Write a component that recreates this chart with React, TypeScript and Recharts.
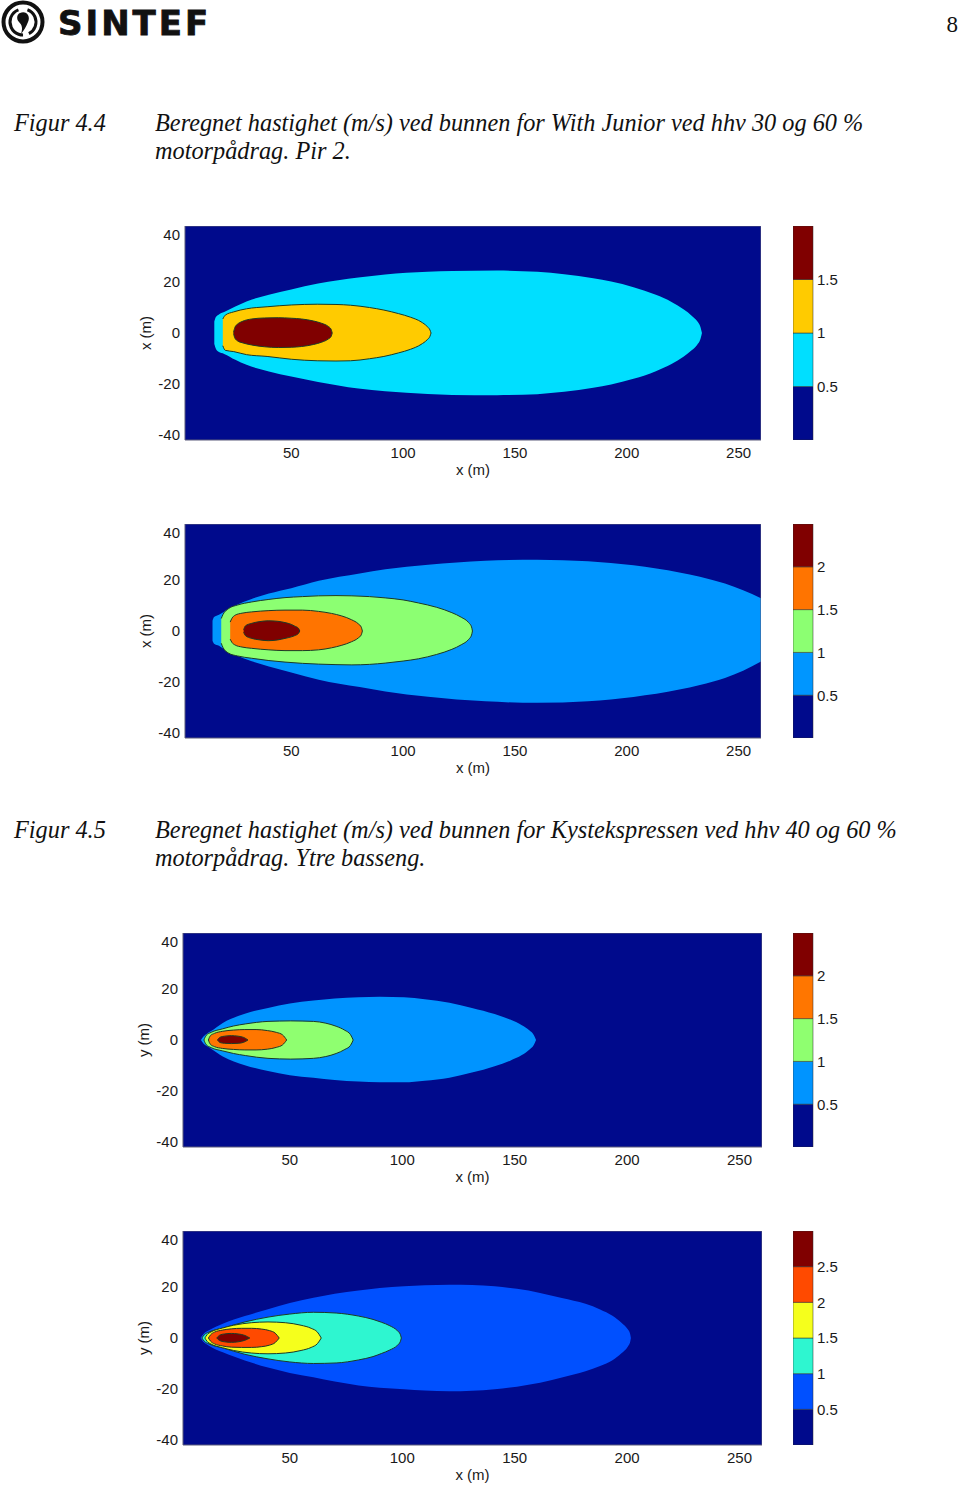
import React from 'react';
import {
  ComposedChart,
  Area,
  XAxis,
  YAxis,
  CartesianGrid,
  ReferenceArea,
  BarChart,
  Bar,
} from 'recharts';

const xTicks = [50, 100, 150, 200, 250];
const yTicks = [-40, -20, 0, 20, 40];
const xDomain: [number, number] = [2.5, 260];
const yDomain: [number, number] = [-42, 42];

const navy = '#000a8c';
const darkRed = '#800000';
const outline = '#1d3a26';

// Figur 4.4, top panel (30 % motorpådrag)
const aLevels = [0, 0.5, 1, 1.5, 2];
const aColors = [navy, '#00dfff', '#ffcb00', darkRed];
const aCyanX = [15.6, 16.3, 17.5, 20, 25, 30, 40, 50, 62, 80, 92, 111, 122, 142, 160, 172, 185, 193, 203, 213, 220, 225.5, 229, 231.5, 233, 233.6];
const aCyanTop = [4.5, 6.3, 7.2, 8.2, 10.4, 12.4, 15, 17.1, 19.4, 21.8, 23.0, 24.0, 24.3, 24.5, 24.0, 23.1, 21.5, 20.2, 18.0, 15.0, 12.2, 9.2, 6.8, 4.6, 2.2, 0];
const aCyanBot = [-4.3, -6.2, -7.4, -8.2, -10.5, -12.5, -15.1, -17.1, -19.2, -21.8, -22.9, -23.9, -24.3, -24.4, -24.0, -23.1, -21.5, -20.2, -18.0, -15.0, -12.2, -9.2, -6.8, -4.6, -2.2, 0];
const aYellowX = [19.4, 20.5, 24.3, 30, 39.2, 50, 61.6, 70, 76.5, 85, 91.4, 98, 103.3, 108, 110.7, 112, 112.5];
const aYellowTop = [5.5, 7.0, 8.3, 9.5, 10.3, 11.0, 11.3, 11.2, 10.9, 10.0, 9.0, 7.6, 6.2, 4.4, 2.6, 1.2, 0];
const aYellowBot = [-5.0, -6.8, -7.3, -8.5, -9.2, -10.3, -10.9, -11.0, -10.9, -10.1, -9.2, -7.8, -6.4, -4.5, -2.7, -1.3, 0];
const aRedX = [24.2, 24.8, 26, 28, 32.3, 38, 44.2, 50, 54.6, 60, 63.6, 66.5, 67.8, 68.3];
const aRedTop = [0.2, 2.2, 3.5, 4.5, 5.5, 5.9, 6.0, 5.8, 5.5, 4.7, 3.8, 2.6, 1.5, 0];
const aRedBot = [-0.2, -2.0, -3.1, -3.8, -4.7, -5.4, -5.7, -5.6, -5.3, -4.5, -3.6, -2.4, -1.4, 0];

// Figur 4.4, bottom panel (60 % motorpådrag)
const bLevels = [0, 0.5, 1, 1.5, 2, 2.5];
const bColors = [navy, '#0096ff', '#8cff72', '#ff7400', darkRed];
const bBlueX = [14.8, 15.5, 17.7, 20, 25.2, 32, 40, 50, 62.3, 80.6, 92.1, 111.2, 136.8, 160, 182.7, 203, 223.5, 232.7, 243.9, 252, 260];
const bBlueTop = [4.0, 5.5, 6.4, 7.6, 10.1, 12.5, 14.7, 16.8, 19.7, 22.6, 24.2, 26.0, 27.6, 28.0, 27.4, 25.8, 23.0, 21.3, 18.6, 16.0, 12.9];
const bBlueBot = [-3.8, -5.0, -5.8, -7.2, -9.4, -11.8, -13.9, -16.3, -19.1, -22.0, -23.7, -25.8, -27.6, -28.2, -27.6, -25.9, -23.0, -21.2, -18.4, -15.6, -12.0];
const bGreenX = [18.7, 19.5, 22, 26, 32.3, 40, 47.2, 55, 62.2, 70, 77.1, 85, 92, 100, 106.9, 115, 121.8, 126, 129.3, 130.6, 131];
const bGreenTop = [4.9, 6.5, 8.8, 10.2, 11.4, 12.4, 13.1, 13.5, 13.8, 13.9, 13.8, 13.5, 13.0, 12.2, 11.0, 9.3, 7.2, 5.4, 3.3, 1.6, 0];
const bGreenBot = [-4.8, -6.5, -8.7, -9.8, -10.7, -11.6, -12.2, -12.7, -13.0, -13.2, -13.3, -13.1, -12.6, -11.8, -10.9, -9.2, -7.2, -5.4, -3.3, -1.6, 0];
const bOrangeX = [22.7, 23.5, 24.9, 28, 32.3, 40, 47.2, 55, 62.2, 68, 72.6, 77, 80, 81.3, 81.8];
const bOrangeTop = [3.5, 5.0, 6.2, 7.0, 7.5, 8.0, 8.2, 8.2, 7.7, 6.9, 5.9, 4.4, 2.8, 1.5, 0];
const bOrangeBot = [-3.2, -4.5, -5.5, -6.3, -6.8, -7.4, -7.7, -7.7, -7.4, -6.6, -5.6, -4.2, -2.7, -1.5, 0];
const bRedX = [28.7, 29.5, 32.3, 36, 39.7, 44, 47.2, 50, 51.6, 53.3, 53.8];
const bRedTop = [0.5, 2.0, 3.0, 3.7, 4.0, 3.8, 3.3, 2.6, 1.9, 1.0, 0];
const bRedBot = [-0.5, -1.8, -2.9, -3.5, -3.8, -3.5, -2.9, -2.3, -1.8, -0.9, 0];

// Figur 4.5, top panel (40 % motorpådrag)
const cLevels = [0, 0.5, 1, 1.5, 2, 2.5];
const cColors = [navy, '#0094ff', '#8fff70', '#ff7600', darkRed];
const cBlueX = [10.5, 11.5, 13, 15, 20.2, 30, 40.3, 50, 60.5, 70, 80.6, 90, 100.8, 110, 121, 131, 141.1, 148, 153.2, 156.5, 158.5, 159.5];
const cBlueTop = [0, 1.3, 2.4, 3.5, 6.7, 10.3, 12.6, 14.3, 15.5, 16.3, 16.8, 17.0, 16.8, 16.0, 14.6, 12.6, 10.2, 8.0, 5.8, 3.8, 2.0, 0];
const cBlueBot = [0, -1.3, -2.4, -3.4, -6.5, -9.9, -12.2, -13.8, -14.8, -15.7, -16.3, -16.6, -16.6, -16.0, -14.8, -12.8, -10.3, -8.1, -5.9, -3.8, -2.0, 0];
const cGreenX = [11.8, 12.8, 15, 20.2, 25, 30.2, 40.3, 50.4, 60.5, 66, 70.6, 74.5, 77, 78.2];
const cGreenTop = [0, 1.8, 3.0, 4.4, 5.5, 6.3, 7.3, 7.5, 7.3, 6.6, 5.4, 3.8, 2.1, 0];
const cGreenBot = [0, -1.8, -3.0, -4.3, -5.3, -6.1, -7.2, -7.5, -7.2, -6.5, -5.3, -3.7, -2.1, 0];
const cOrangeX = [13.8, 14.6, 16.5, 20, 25, 30, 35, 40, 44, 46.8, 48.6];
const cOrangeTop = [0, 1.6, 2.6, 3.4, 3.9, 4.1, 4.1, 3.7, 3.0, 2.0, 0];
const cOrangeBot = [0, -1.6, -2.6, -3.3, -3.7, -3.9, -3.9, -3.6, -2.9, -1.9, 0];
const cRedX = [17.8, 19, 21, 24, 27, 29.5, 31.4];
const cRedTop = [0, 1.1, 1.5, 1.7, 1.5, 1.0, 0];
const cRedBot = [0, -1.0, -1.3, -1.4, -1.3, -0.9, 0];

// Figur 4.5, bottom panel (60 % motorpådrag)
const dLevels = [0, 0.5, 1, 1.5, 2, 2.5, 3];
const dColors = [navy, '#0050ff', '#2ef6d0', '#f5ff1c', '#ff4a00', darkRed];
const dBlueX = [10.3, 11.5, 14, 20.2, 30, 40.3, 50, 60.5, 70, 80.6, 90, 100.8, 110, 121, 131, 141.1, 151, 161.3, 171, 181.5, 188, 193.5, 197.5, 200.3, 201.3, 201.7];
const dBlueTop = [0, 1.5, 3.0, 5.6, 8.6, 11.3, 13.7, 15.8, 17.4, 18.6, 19.6, 20.3, 20.7, 20.9, 20.8, 20.3, 19.3, 17.7, 15.7, 13.4, 11.2, 8.7, 6.0, 3.4, 1.8, 0];
const dBlueBot = [0, -1.5, -3.0, -5.6, -8.8, -11.6, -13.7, -15.4, -17.1, -18.6, -19.5, -20.1, -20.6, -20.9, -20.7, -20.1, -19.1, -17.6, -15.5, -13.1, -11.0, -8.7, -6.0, -3.4, -1.8, 0];
const dAquaX = [10.9, 12, 14, 20.2, 30, 40.3, 50, 60.5, 70.6, 80.6, 87, 90.7, 94.5, 97.8, 99.1, 99.6];
const dAquaTop = [0, 1.3, 2.3, 3.9, 6.3, 8.2, 9.4, 10.1, 9.8, 8.6, 7.3, 6.2, 4.8, 2.9, 1.5, 0];
const dAquaBot = [0, -1.3, -2.3, -3.9, -6.4, -8.2, -9.4, -10.0, -9.8, -8.6, -7.3, -6.1, -4.7, -2.9, -1.5, 0];
const dYellowX = [12.2, 13.2, 15, 20, 25, 32.9, 40.3, 48, 55, 59.5, 62.3, 64];
const dYellowTop = [0, 1.3, 2.4, 3.9, 5.0, 6.0, 6.3, 6.0, 5.0, 3.8, 2.3, 0];
const dYellowBot = [0, -1.3, -2.4, -3.8, -4.9, -5.9, -6.2, -5.9, -4.9, -3.7, -2.2, 0];
const dOrangeX = [13.8, 14.8, 16.5, 20, 24, 28.5, 33, 37.5, 41, 43.5, 45.3];
const dOrangeTop = [0, 1.3, 2.3, 3.1, 3.6, 3.8, 3.8, 3.5, 2.9, 1.9, 0];
const dOrangeBot = [0, -1.3, -2.3, -3.1, -3.6, -3.7, -3.7, -3.4, -2.8, -1.8, 0];
const dRedX = [17.5, 18.8, 21, 24, 27, 30, 32.2];
const dRedTop = [0, 1.1, 1.6, 1.8, 1.6, 1.0, 0];
const dRedBot = [0, -1.0, -1.5, -1.7, -1.5, -0.9, 0];

interface Contour {
  key: string;
  color: string;
  line: boolean;
  x: number[];
  top: number[];
  bot: number[];
}

// merge the contour outlines into one row set keyed by x
function buildRows(contours: Contour[]) {
  const byX = new Map<number, Record<string, any>>();
  contours.forEach((c) => {
    c.x.forEach((xv, i) => {
      const row = byX.get(xv) ?? { x: xv };
      row[c.key] = [c.bot[i], c.top[i]];
      byX.set(xv, row);
    });
  });
  return Array.from(byX.values()).sort((p, q) => p.x - q.x);
}

const AXIS_W = 70;
const XAXIS_H = 45;
const PLOT_H = 214;
const tickStyle = { fontSize: 15, fill: '#1a1a1a', fontFamily: "'Liberation Sans', Arial, sans-serif" };

interface PanelProps {
  left: number;
  right: number;
  top: number;
  yLabel: string;
  contours: Contour[];
  levels: number[];
  colors: string[];
}

function ContourPanel({ left, right, top, yLabel, contours, levels, colors }: PanelProps) {
  const rows = buildRows(contours);
  const plotW = right - left;
  const cbRow: Record<string, any> = { name: 'cb' };
  colors.forEach((_, i) => {
    cbRow['s' + i] = levels[i + 1] - levels[i];
  });
  const cbTicks = levels.slice(1, -1);

  return (
    <>
      <div style={{ position: 'absolute', left: left - AXIS_W, top }}>
        <ComposedChart
          width={plotW + AXIS_W}
          height={PLOT_H + XAXIS_H}
          data={rows}
          margin={{ top: 0, right: 0, bottom: 0, left: 0 }}
        >
          <CartesianGrid fill={colors[0]} fillOpacity={1} stroke="none" horizontal={false} vertical={false} />
          <XAxis
            type="number"
            dataKey="x"
            domain={xDomain}
            allowDataOverflow
            ticks={xTicks}
            tickLine={false}
            axisLine={false}
            tickSize={0}
            tickMargin={7}
            height={XAXIS_H}
            tick={tickStyle}
            label={{ value: 'x (m)', position: 'insideBottom', offset: 10, style: tickStyle }}
          />
          <YAxis
            type="number"
            domain={yDomain}
            allowDataOverflow
            ticks={yTicks}
            tickLine={false}
            axisLine={false}
            tickSize={0}
            tickMargin={5}
            width={AXIS_W}
            tick={tickStyle}
            label={{
              value: yLabel,
              angle: -90,
              position: 'insideLeft',
              offset: 31,
              style: { ...tickStyle, textAnchor: 'middle' },
            }}
          />
          {contours.map((c) => (
            <Area
              key={c.key}
              type="monotone"
              dataKey={c.key}
              fill={c.color}
              fillOpacity={1}
              stroke={c.line ? outline : 'none'}
              strokeWidth={1}
              connectNulls
              dot={false}
              activeDot={false}
              isAnimationActive={false}
            />
          ))}
          <ReferenceArea
            x1={xDomain[0]}
            x2={xDomain[1]}
            y1={yDomain[0]}
            y2={yDomain[1]}
            fill="none"
            stroke="#5a5a7a"
            strokeWidth={1}
          />
        </ComposedChart>
      </div>
      <div style={{ position: 'absolute', left: 793, top }}>
        <BarChart
          width={70}
          height={PLOT_H}
          data={[cbRow]}
          margin={{ top: 0, right: 0, bottom: 0, left: 0 }}
          barCategoryGap={0}
          barGap={0}
        >
          <XAxis dataKey="name" hide />
          <YAxis
            orientation="right"
            type="number"
            domain={[levels[0], levels[levels.length - 1]]}
            ticks={cbTicks}
            tickLine={false}
            axisLine={false}
            tickSize={0}
            tickMargin={4}
            width={50}
            tick={tickStyle}
          />
          {colors.map((col, i) => (
            <Bar
              key={i}
              dataKey={'s' + i}
              stackId="cb"
              fill={col}
              stroke="#2a2a2a"
              strokeWidth={0.5}
              isAnimationActive={false}
            />
          ))}
        </BarChart>
      </div>
    </>
  );
}

function Logo() {
  return (
    <svg width={220} height={48} style={{ position: 'absolute', left: 0, top: 0 }}>
      <circle cx={23} cy={22} r={19.5} fill="none" stroke="#111" strokeWidth={4} />
      <circle
        cx={23}
        cy={22}
        r={13}
        fill="none"
        stroke="#111"
        strokeWidth={3}
        strokeDasharray="30 6 36 10"
        transform="rotate(-70 23 22)"
      />
      <path
        d="M 20 13 C 26 10, 31 16, 28 22 C 26 27, 24 30, 21 34 C 23 28, 22 25, 19 22 C 16 19, 17 14, 20 13 Z"
        fill="#111"
      />
      <text
        x={58}
        y={35}
        fontFamily="'DejaVu Sans', sans-serif"
        fontWeight={700}
        fontSize={34}
        letterSpacing={3}
        fill="#111"
        stroke="#111"
        strokeWidth={0.8}
      >
        SINTEF
      </text>
    </svg>
  );
}

const captionFont = "'Liberation Serif', 'Times New Roman', serif";

function Caption({ top, label, lines }: { top: number; label: string; lines: string[] }) {
  const base = {
    position: 'absolute' as const,
    top,
    fontFamily: captionFont,
    fontStyle: 'italic',
    fontSize: 24.3,
    lineHeight: '28px',
    color: '#111',
    whiteSpace: 'nowrap' as const,
  };
  return (
    <>
      <div style={{ ...base, left: 14 }}>{label}</div>
      <div style={{ ...base, left: 155 }}>
        {lines.map((l) => (
          <div key={l}>{l}</div>
        ))}
      </div>
    </>
  );
}

const panelA: Contour[] = [
  { key: 'cyan', color: aColors[1], line: false, x: aCyanX, top: aCyanTop, bot: aCyanBot },
  { key: 'yellow', color: aColors[2], line: true, x: aYellowX, top: aYellowTop, bot: aYellowBot },
  { key: 'red', color: aColors[3], line: true, x: aRedX, top: aRedTop, bot: aRedBot },
];
const panelB: Contour[] = [
  { key: 'blue', color: bColors[1], line: false, x: bBlueX, top: bBlueTop, bot: bBlueBot },
  { key: 'green', color: bColors[2], line: true, x: bGreenX, top: bGreenTop, bot: bGreenBot },
  { key: 'orange', color: bColors[3], line: true, x: bOrangeX, top: bOrangeTop, bot: bOrangeBot },
  { key: 'red', color: bColors[4], line: true, x: bRedX, top: bRedTop, bot: bRedBot },
];
const panelC: Contour[] = [
  { key: 'blue', color: cColors[1], line: false, x: cBlueX, top: cBlueTop, bot: cBlueBot },
  { key: 'green', color: cColors[2], line: true, x: cGreenX, top: cGreenTop, bot: cGreenBot },
  { key: 'orange', color: cColors[3], line: true, x: cOrangeX, top: cOrangeTop, bot: cOrangeBot },
  { key: 'red', color: cColors[4], line: true, x: cRedX, top: cRedTop, bot: cRedBot },
];
const panelD: Contour[] = [
  { key: 'blue', color: dColors[1], line: false, x: dBlueX, top: dBlueTop, bot: dBlueBot },
  { key: 'aqua', color: dColors[2], line: true, x: dAquaX, top: dAquaTop, bot: dAquaBot },
  { key: 'yellow', color: dColors[3], line: true, x: dYellowX, top: dYellowTop, bot: dYellowBot },
  { key: 'orange', color: dColors[4], line: true, x: dOrangeX, top: dOrangeTop, bot: dOrangeBot },
  { key: 'red', color: dColors[5], line: true, x: dRedX, top: dRedTop, bot: dRedBot },
];

export default function App() {
  return (
    <div
      style={{
        position: 'absolute',
        left: 0,
        top: 0,
        width: 960,
        height: 1486,
        background: '#fff',
        overflow: 'hidden',
        fontFamily: "'Liberation Sans', Arial, sans-serif",
      }}
    >
      <Logo />
      <div
        style={{
          position: 'absolute',
          right: 2,
          top: 11,
          fontFamily: captionFont,
          fontSize: 23,
          lineHeight: '28px',
          color: '#111',
        }}
      >
        8
      </div>
      <Caption
        top={109}
        label="Figur 4.4"
        lines={[
          'Beregnet hastighet (m/s) ved bunnen for With Junior ved hhv 30 og 60 %',
          'motorpådrag. Pir 2.',
        ]}
      />
      <ContourPanel left={185} right={761} top={226} yLabel="x (m)" contours={panelA} levels={aLevels} colors={aColors} />
      <ContourPanel left={185} right={761} top={524} yLabel="x (m)" contours={panelB} levels={bLevels} colors={bColors} />
      <Caption
        top={816}
        label="Figur 4.5"
        lines={[
          'Beregnet hastighet (m/s) ved bunnen for Kystekspressen ved hhv 40 og 60 %',
          'motorpådrag. Ytre basseng.',
        ]}
      />
      <ContourPanel left={183} right={762} top={933} yLabel="y (m)" contours={panelC} levels={cLevels} colors={cColors} />
      <ContourPanel left={183} right={762} top={1231} yLabel="y (m)" contours={panelD} levels={dLevels} colors={dColors} />
    </div>
  );
}
